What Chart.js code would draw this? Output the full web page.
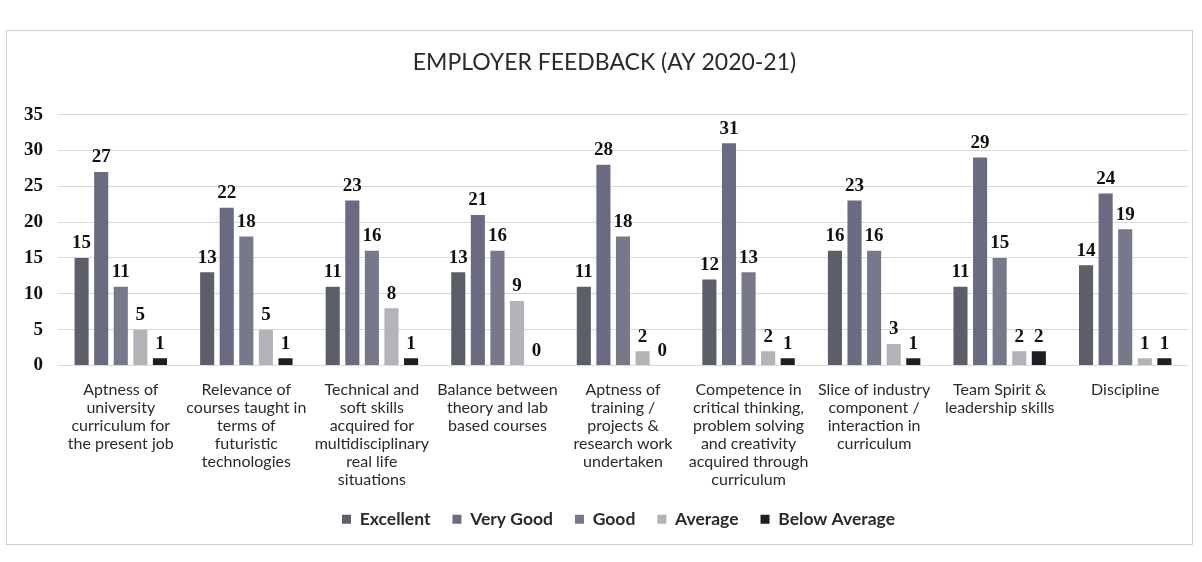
<!DOCTYPE html>
<html>
<head>
<meta charset="utf-8">
<script src="https://cdn.jsdelivr.net/npm/chart.js@4"></script>
<style>
  body { margin: 0; background: #fff; }
  #wrap { width: 1202px; height: 562px; }
</style>
</head>
<body>
<div id="wrap"><canvas id="feedbackChart" width="1202" height="562"></canvas></div>
<script>
const categories = [
  ["Aptness of", "university", "curriculum for", "the present job"],
  ["Relevance of", "courses taught in", "terms of", "futuristic", "technologies"],
  ["Technical and", "soft skills", "acquired for", "multidisciplinary", "real life", "situations"],
  ["Balance between", "theory and lab", "based courses"],
  ["Aptness of", "training /", "projects &", "research work", "undertaken"],
  ["Competence in", "critical thinking,", "problem solving", "and creativity", "acquired through", "curriculum"],
  ["Slice of industry", "component /", "interaction in", "curriculum"],
  ["Team Spirit &", "leadership skills"],
  ["Discipline"],
];

const excellent = [15, 13, 11, 13, 11, 12, 16, 11, 14];
const veryGood = [27, 22, 23, 21, 28, 31, 23, 29, 24];
const good = [11, 18, 16, 16, 18, 13, 16, 15, 19];
const average = [5, 5, 8, 9, 2, 2, 3, 2, 1];
const belowAverage = [1, 1, 1, 0, 0, 1, 1, 2, 1];

const yTicks = [0, 5, 10, 15, 20, 25, 30, 35];

// frame round the whole chart, like the scanned box
const framePlugin = {
  id: "frame",
  beforeDraw(chart) {
    const ctx = chart.ctx;
    ctx.save();
    ctx.strokeStyle = "#cfcfcf";
    ctx.lineWidth = 1;
    ctx.strokeRect(6.5, 30.5, 1186, 514);
    ctx.restore();
  },
};

// nudge title and legend a little to the right, as in the scan
const nudgePlugin = {
  id: "nudge",
  afterLayout(chart) {
    chart.titleBlock.left += 6;
    chart.titleBlock.right += 6;
    chart.legend.left += 20;
    chart.legend.right += 20;
  },
};

// numbers on top of each bar
const valueLabels = {
  id: "valueLabels",
  afterDatasetsDraw(chart) {
    const ctx = chart.ctx;
    ctx.save();
    ctx.font = "bold 19px 'Liberation Serif', 'Times New Roman', serif";
    ctx.fillStyle = "#111";
    ctx.textAlign = "center";
    ctx.textBaseline = "bottom";
    chart.data.datasets.forEach((ds, i) => {
      const meta = chart.getDatasetMeta(i);
      meta.data.forEach((bar, j) => {
        ctx.fillText(ds.data[j], bar.x, bar.y - 5);
      });
    });
    ctx.restore();
  },
};

const ctx = document.getElementById("feedbackChart").getContext("2d");

new Chart(ctx, {
  type: "bar",
  data: {
    labels: categories,
    datasets: [
      { label: "Excellent", data: excellent, backgroundColor: "#5c5f68" },
      { label: "Very Good", data: veryGood, backgroundColor: "#6a6a80" },
      { label: "Good", data: good, backgroundColor: "#78788b" },
      { label: "Average", data: average, backgroundColor: "#b3b3b8" },
      { label: "Below Average", data: belowAverage, backgroundColor: "#1e1e24" },
    ],
  },
  options: {
    responsive: false,
    animation: false,
    categoryPercentage: 0.78,
    barPercentage: 0.72,
    layout: { padding: { top: 37, left: 9, right: 14, bottom: 24 } },
    scales: {
      y: {
        min: 0,
        max: 35,
        afterBuildTicks: (scale) => {
          scale.ticks = yTicks.map((v) => ({ value: v }));
        },
        ticks: {
          color: "#111",
          padding: 15,
          font: { family: "'Liberation Serif', serif", size: 19, weight: "bold" },
        },
        grid: { color: "#d9d9d9", drawTicks: false },
        border: { display: false },
      },
      x: {
        grid: { display: false, drawTicks: false },
        border: { display: false },
        ticks: {
          color: "#2a2a2a",
          padding: 15,
          maxRotation: 0,
          autoSkip: false,
          font: { family: "Lato, sans-serif", size: 16, lineHeight: 1.125 },
        },
        afterFit: (scale) => {
          scale.height -= 15;
        },
      },
    },
    plugins: {
      title: {
        display: true,
        text: "EMPLOYER FEEDBACK (AY 2020-21)",
        color: "#2a2a2a",
        font: { family: "Lato, sans-serif", size: 23, weight: "normal" },
        padding: { top: 12, bottom: 38 },
      },
      legend: {
        position: "bottom",
        labels: {
          color: "#2a2a2a",
          boxWidth: 9,
          boxHeight: 9,
          padding: 22,
          font: { family: "Lato, sans-serif", size: 17.5, weight: "bold" },
        },
      },
      tooltip: { enabled: false },
    },
  },
  plugins: [framePlugin, nudgePlugin, valueLabels],
});
</script>
</body>
</html>
